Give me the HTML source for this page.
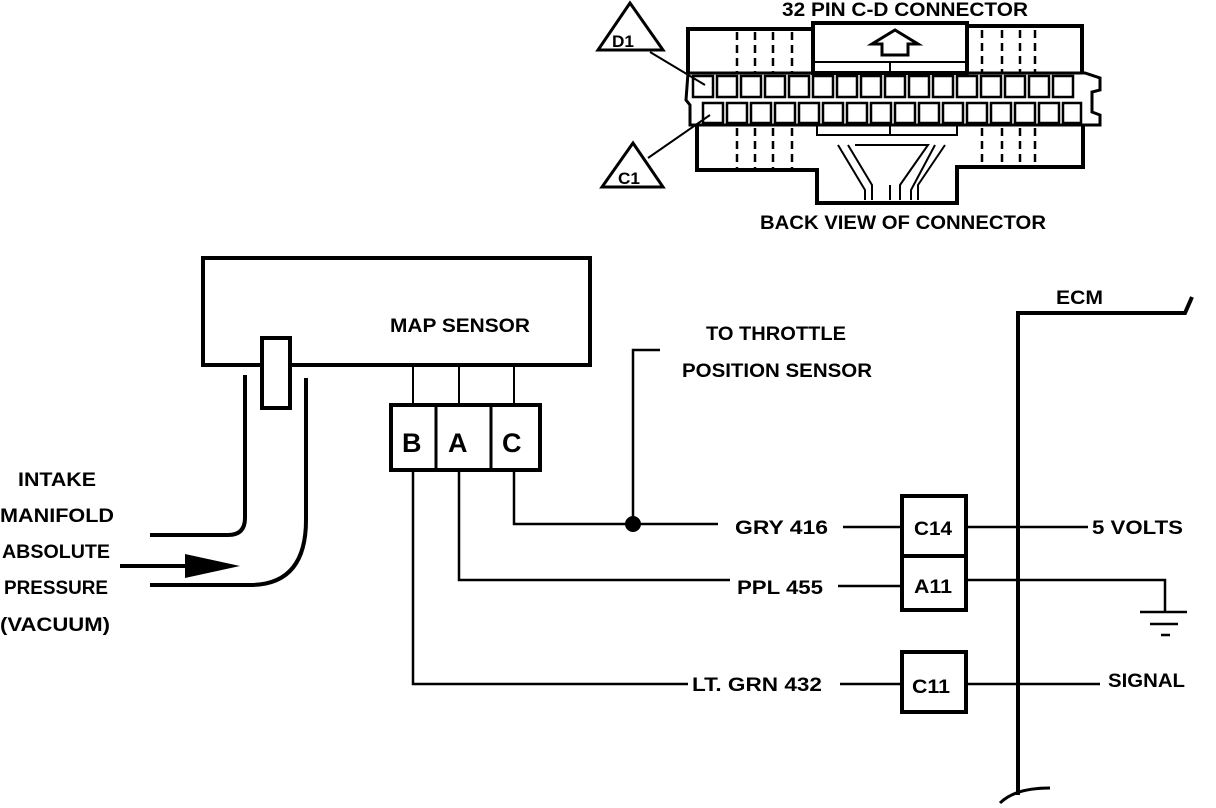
<!DOCTYPE html>
<html><head><style>html,body{margin:0;padding:0;background:#fff}svg{display:block}text{font-family:"Liberation Sans",sans-serif;font-weight:bold;fill:#000}</style></head>
<body>
<svg width="1216" height="808" viewBox="0 0 1216 808" xmlns="http://www.w3.org/2000/svg">
<g fill="none" stroke="#000" stroke-width="3">
<path d="M688 73 V29 H813 V72 M967 72 V26 H1082 V73" stroke-width="4"/>
<rect x="813" y="23" width="154" height="50" stroke-width="4"/>
<path d="M882 55 V44 H872 L895 30 L918 44 H908 V55 Z" stroke-width="3"/>
<path d="M813 62 H967 M890 62 V72" stroke-width="2"/>
<path d="M688 73 H1085 L1100 78 V90 L1092 92 V112 L1100 115 V125 H690 V105 L686 100 Z" stroke-width="3"/>
<path d="M697 125 V170 H817 V203 H957 V167 H1083 V125" stroke-width="4"/>
<path d="M817 125 V135 H957 V125 M890 125 V135" stroke-width="2"/>
<g stroke-width="2">
<path d="M838 145 L865 190 V200 M848 145 L872 185 V200 M945 145 L918 185 V200 M935 145 L911 190 V200 M855 145 H928 L900 185 V200 M890 185 V200"/>
</g>
<g stroke-width="2.5" stroke-dasharray="8 5">
<path d="M737 32 V72 M755 32 V72 M773 32 V72 M792 32 V72 M982 30 V72 M1002 30 V72 M1020 30 V72 M1035 30 V72"/>
<path d="M737 128 V168 M755 128 V168 M773 128 V168 M792 128 V168 M982 128 V166 M1002 128 V166 M1020 128 V166 M1035 128 V166"/>
</g>
<g stroke-width="2.5">
<path d="M693 76 h20 v21 h-20 z M717 76 h20 v21 h-20 z M741 76 h20 v21 h-20 z M765 76 h20 v21 h-20 z M789 76 h20 v21 h-20 z M813 76 h20 v21 h-20 z M837 76 h20 v21 h-20 z M861 76 h20 v21 h-20 z M885 76 h20 v21 h-20 z M909 76 h20 v21 h-20 z M933 76 h20 v21 h-20 z M957 76 h20 v21 h-20 z M981 76 h20 v21 h-20 z M1005 76 h20 v21 h-20 z M1029 76 h20 v21 h-20 z M1053 76 h20 v21 h-20 z"/>
<path d="M703 103 h20 v20 h-20 z M727 103 h20 v20 h-20 z M751 103 h20 v20 h-20 z M775 103 h20 v20 h-20 z M799 103 h20 v20 h-20 z M823 103 h20 v20 h-20 z M847 103 h20 v20 h-20 z M871 103 h20 v20 h-20 z M895 103 h20 v20 h-20 z M919 103 h20 v20 h-20 z M943 103 h20 v20 h-20 z M967 103 h20 v20 h-20 z M991 103 h20 v20 h-20 z M1015 103 h20 v20 h-20 z M1039 103 h20 v20 h-20 z M1063 103 h18 v20 h-18 z"/>
</g>
<path d="M630 3 L598 50 H663 Z M633 143 L602 187 H663 Z" stroke-width="3"/>
<path d="M650 52 L705 85 M648 158 L710 115" stroke-width="2"/>
<rect x="203" y="258" width="387" height="107" stroke-width="4"/>
<rect x="262" y="338" width="28" height="70" fill="#fff" stroke-width="4"/>
<path d="M413 365 V405 M459 365 V405 M514 365 V405" stroke-width="2"/>
<rect x="391" y="405" width="149" height="65" stroke-width="4"/>
<path d="M436 405 V470 M491 405 V470" stroke-width="3"/>
<path d="M245 375 V518 Q245 535 228 535 H150" stroke-width="4"/>
<path d="M306 378 V520 Q306 585 250 585 H150" stroke-width="4"/>
<path d="M120 566 H190" stroke-width="4"/>
<path d="M413 470 V684 H688 M459 470 V580 H730 M514 470 V524 H718 M633 524 V350 H660" stroke-width="2.5"/>
<path d="M843 527 H902 M838 586 H902 M840 684 H902" stroke-width="2.5"/>
<rect x="902" y="496" width="64" height="60" stroke-width="4"/>
<rect x="902" y="556" width="64" height="54" stroke-width="4"/>
<rect x="902" y="652" width="64" height="60" stroke-width="4"/>
<path d="M966 527 H1088 M966 580 H1165 V612 M966 684 H1100" stroke-width="2.5"/>
<path d="M1140 612 H1187 M1150 624 H1178 M1161 635 H1170" stroke-width="2.5"/>
<path d="M1018 795 V313 H1185 L1192 297" stroke-width="4"/>
<path d="M1000 803 Q1015 788 1050 788" stroke-width="3"/>
</g>
<circle cx="633" cy="524" r="8"/>
<path d="M185 554 L240 566 L185 578 Z"/>
<g font-size="19">
<text x="782" y="16" textLength="246" lengthAdjust="spacingAndGlyphs">32 PIN C-D  CONNECTOR</text>
<text x="760" y="229" textLength="286" lengthAdjust="spacingAndGlyphs">BACK VIEW OF CONNECTOR</text>
<text x="612" y="47" font-size="17" textLength="22" lengthAdjust="spacingAndGlyphs">D1</text>
<text x="618" y="184" font-size="17" textLength="22" lengthAdjust="spacingAndGlyphs">C1</text>
<text x="390" y="332" textLength="140" lengthAdjust="spacingAndGlyphs">MAP SENSOR</text>
<text x="706" y="340" textLength="140" lengthAdjust="spacingAndGlyphs">TO THROTTLE</text>
<text x="682" y="377" textLength="190" lengthAdjust="spacingAndGlyphs">POSITION SENSOR</text>
<text x="1056" y="304" textLength="47" lengthAdjust="spacingAndGlyphs">ECM</text>
<text x="18" y="486" textLength="78" lengthAdjust="spacingAndGlyphs">INTAKE</text>
<text x="0" y="522" textLength="114" lengthAdjust="spacingAndGlyphs">MANIFOLD</text>
<text x="2" y="558" textLength="108" lengthAdjust="spacingAndGlyphs">ABSOLUTE</text>
<text x="4" y="594" textLength="104" lengthAdjust="spacingAndGlyphs">PRESSURE</text>
<text x="0" y="631" textLength="110" lengthAdjust="spacingAndGlyphs">(VACUUM)</text>
<text x="735" y="534" textLength="93" lengthAdjust="spacingAndGlyphs">GRY  416</text>
<text x="737" y="594" textLength="86" lengthAdjust="spacingAndGlyphs">PPL  455</text>
<text x="692" y="691" textLength="130" lengthAdjust="spacingAndGlyphs">LT. GRN  432</text>
<text x="1092" y="534" textLength="91" lengthAdjust="spacingAndGlyphs">5 VOLTS</text>
<text x="1108" y="687" textLength="77" lengthAdjust="spacingAndGlyphs">SIGNAL</text>
<text x="914" y="535" textLength="38" lengthAdjust="spacingAndGlyphs">C14</text>
<text x="914" y="593" textLength="38" lengthAdjust="spacingAndGlyphs">A11</text>
<text x="912" y="693" textLength="38" lengthAdjust="spacingAndGlyphs">C11</text>
<text x="402" y="452" font-size="27">B</text>
<text x="448" y="452" font-size="27">A</text>
<text x="502" y="452" font-size="27">C</text>
</g>
</svg>
</body></html>
